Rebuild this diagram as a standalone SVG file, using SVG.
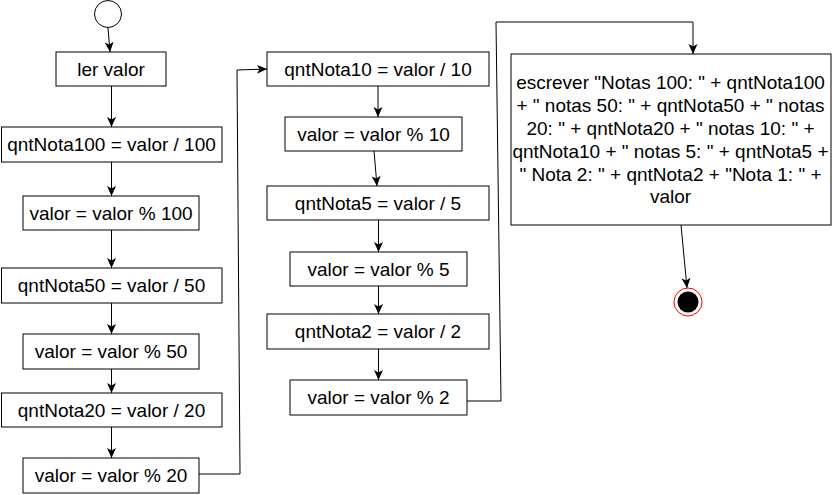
<svg xmlns="http://www.w3.org/2000/svg" width="832" height="495" viewBox="0 0 832 495">
<style>
.box{fill:#fff;stroke:#000;stroke-width:1}
.t{font-family:"Liberation Sans",Arial,sans-serif;font-size:19px;fill:#000;text-anchor:middle}
.e{fill:none;stroke:#000;stroke-width:1}
</style>
<defs>
<marker id="arr" markerUnits="userSpaceOnUse" markerWidth="12" markerHeight="10" refX="10" refY="4.5" orient="auto">
<path d="M0,0 L10,4.5 L0,9 L2.5,4.5 z" fill="#000"/>
</marker>
</defs>
<rect width="832" height="495" fill="#fff"/>
<g id="connectors">
<path class="e" d="M108,28 L110,52" marker-end="url(#arr)"/>
<path class="e" d="M111.5,86 L111.5,127" marker-end="url(#arr)"/>
<path class="e" d="M111.5,162 L111.5,196" marker-end="url(#arr)"/>
<path class="e" d="M111.5,230 L111.5,268" marker-end="url(#arr)"/>
<path class="e" d="M111.5,303 L111.5,334" marker-end="url(#arr)"/>
<path class="e" d="M111.5,369 L111.5,393" marker-end="url(#arr)"/>
<path class="e" d="M111.5,427 L111.5,458" marker-end="url(#arr)"/>
<path class="e" d="M199,474 L240,474 L237,70 L267,69" marker-end="url(#arr)"/>
<path class="e" d="M378,86 L378,117" marker-end="url(#arr)"/>
<path class="e" d="M374,151 L377,186" marker-end="url(#arr)"/>
<path class="e" d="M378.5,220 L378.5,252" marker-end="url(#arr)"/>
<path class="e" d="M378.5,286 L378.5,314" marker-end="url(#arr)"/>
<path class="e" d="M378.5,349 L378.5,380" marker-end="url(#arr)"/>
<path class="e" d="M467,401 L501,401 L496,22 L693,22 L693,54" marker-end="url(#arr)"/>
<path class="e" d="M681,225 L687,288" marker-end="url(#arr)"/>
</g>
<g id="start"><circle cx="108" cy="14" r="13.5" class="box"/></g>
<g id="n1"><rect class="box" x="56" y="52" width="110" height="34"/><text class="t" x="111" y="75.8">ler valor</text></g>
<g id="n2"><rect class="box" x="1.5" y="127" width="220.5" height="35"/><text class="t" x="111.5" y="151.3">qntNota100 = valor / 100</text></g>
<g id="n3"><rect class="box" x="23" y="196" width="176" height="34"/><text class="t" x="111" y="219.8">valor = valor % 100</text></g>
<g id="n4"><rect class="box" x="1.5" y="268" width="220.5" height="35"/><text class="t" x="111.5" y="292.3">qntNota50 = valor / 50</text></g>
<g id="n5"><rect class="box" x="23" y="334" width="176" height="35"/><text class="t" x="111" y="358.3">valor = valor % 50</text></g>
<g id="n6"><rect class="box" x="1.5" y="393" width="220.5" height="34"/><text class="t" x="111.5" y="416.8">qntNota20 = valor / 20</text></g>
<g id="n7"><rect class="box" x="23" y="458" width="176" height="35"/><text class="t" x="111" y="482.3">valor = valor % 20</text></g>
<g id="n8"><rect class="box" x="267" y="52" width="222" height="34"/><text class="t" x="378" y="75.8">qntNota10 = valor / 10</text></g>
<g id="n9"><rect class="box" x="285" y="117" width="177" height="34"/><text class="t" x="373.5" y="140.8">valor = valor % 10</text></g>
<g id="n10"><rect class="box" x="267" y="186" width="222" height="34"/><text class="t" x="378" y="209.8">qntNota5 = valor / 5</text></g>
<g id="n11"><rect class="box" x="290" y="252" width="177" height="34"/><text class="t" x="378.5" y="275.8">valor = valor % 5</text></g>
<g id="n12"><rect class="box" x="267" y="314" width="222" height="35"/><text class="t" x="378" y="338.3">qntNota2 = valor / 2</text></g>
<g id="n13"><rect class="box" x="290" y="380" width="177" height="35"/><text class="t" x="378.5" y="404.3">valor = valor % 2</text></g>
<g id="n14"><rect class="box" x="511" y="54" width="320" height="171"/>
<text class="t" x="670.5" y="89.3">escrever "Notas 100: " + qntNota100</text>
<text class="t" x="670.5" y="112.1">+ " notas 50: " + qntNota50 + " notas</text>
<text class="t" x="670.5" y="134.9">20: " + qntNota20 + " notas 10: " +</text>
<text class="t" x="670.5" y="157.7">qntNota10 + " notas 5: " + qntNota5 +</text>
<text class="t" x="670.5" y="180.5">" Nota 2: " + qntNota2 + "Nota 1: " +</text>
<text class="t" x="670.5" y="203.3">valor</text>
</g>
<g id="end"><circle cx="688" cy="302" r="14" fill="#fff" stroke="#ff0000" stroke-width="1"/><circle cx="688" cy="302" r="10.5" fill="#000"/></g>
</svg>
